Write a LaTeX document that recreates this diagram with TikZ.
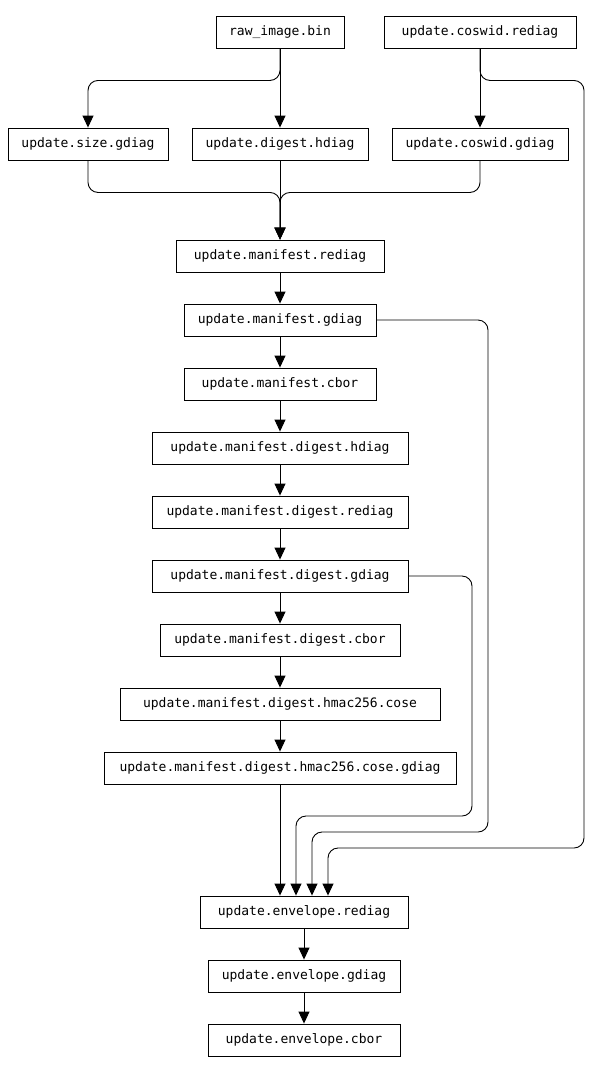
\documentclass[tikz,border=0pt]{standalone}
\usepackage{fontspec}
\setmonofont{DejaVu Sans Mono}
\usetikzlibrary{arrows.meta}
\begin{document}
\begin{tikzpicture}[x=1pt,y=-1pt,
  box/.style={draw=black,line width=0.9pt,minimum height=32pt,inner sep=0pt,
    font=\ttfamily\fontsize{13}{15}\selectfont},
  arr/.style={draw=black,line width=0.9pt,rounded corners=10pt,
    -{Triangle[length=12pt,width=11pt]}}]
\useasboundingbox (0,0) rectangle (592,1072);
% source files
\node[box,minimum width=128pt] (raw) at (280,32) {raw\_image.bin};
\node[box,minimum width=192pt] (cr) at (480,32) {update.coswid.rediag};
% first level diagnostics
\node[box,minimum width=160pt] (sg) at (88,144) {update.size.gdiag};
\node[box,minimum width=176pt] (dh) at (280,144) {update.digest.hdiag};
\node[box,minimum width=176pt] (cg) at (480,144) {update.coswid.gdiag};
% manifest chain
\node[box,minimum width=208pt] (mr) at (280,256) {update.manifest.rediag};
\node[box,minimum width=192pt] (mg) at (280,320) {update.manifest.gdiag};
\node[box,minimum width=192pt] (mc) at (280,384) {update.manifest.cbor};
\node[box,minimum width=256pt] (mdh) at (280,448) {update.manifest.digest.hdiag};
\node[box,minimum width=256pt] (mdr) at (280,512) {update.manifest.digest.rediag};
\node[box,minimum width=256pt] (mdg) at (280,576) {update.manifest.digest.gdiag};
\node[box,minimum width=240pt] (mdc) at (280,640) {update.manifest.digest.cbor};
\node[box,minimum width=320pt] (hc) at (280,704) {update.manifest.digest.hmac256.cose};
\node[box,minimum width=352pt] (hcg) at (280,768) {update.manifest.digest.hmac256.cose.gdiag};
% envelope chain
\node[box,minimum width=208pt] (er) at (304,912) {update.envelope.rediag};
\node[box,minimum width=192pt] (eg) at (304,976) {update.envelope.gdiag};
\node[box,minimum width=192pt] (ec) at (304,1040) {update.envelope.cbor};
% bends of the long connectors
\coordinate (b1) at (584,848);
\coordinate (b2) at (488,832);
\coordinate (b3) at (472,816);
% connectors
\draw[arr] (raw.south) -- ++(0,32) -| (sg.north);
\draw[arr] (raw.south) -- (dh.north);
\draw[arr] (cr.south) -- (cg.north);
\draw[arr] (cr.south) -- ++(0,32) -| (b1) -| ([xshift=24pt]er.north);
\draw[arr] (sg.south) -- ++(0,32) -| (mr.north);
\draw[arr] (dh.south) -- (mr.north);
\draw[arr] (cg.south) -- ++(0,32) -| (mr.north);
\draw[arr] (mr) -- (mg);
\draw[arr] (mg) -- (mc);
\draw[arr] (mg.east) -| (b2) -| ([xshift=8pt]er.north);
\draw[arr] (mc) -- (mdh);
\draw[arr] (mdh) -- (mdr);
\draw[arr] (mdr) -- (mdg);
\draw[arr] (mdg) -- (mdc);
\draw[arr] (mdg.east) -| (b3) -| ([xshift=-8pt]er.north);
\draw[arr] (mdc) -- (hc);
\draw[arr] (hc) -- (hcg);
\draw[arr] (hcg.south) -- ([xshift=-24pt]er.north);
\draw[arr] (er) -- (eg);
\draw[arr] (eg) -- (ec);
\end{tikzpicture}
\end{document}
